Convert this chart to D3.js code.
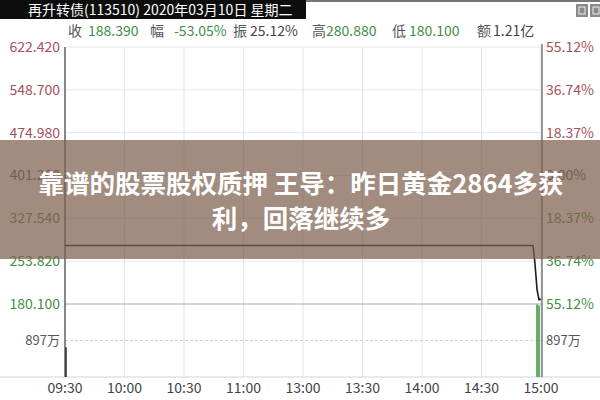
<!DOCTYPE html>
<html><head><meta charset="utf-8">
<script src="https://cdn.jsdelivr.net/npm/d3@7"></script>
<style>body{margin:0;background:#fff}svg{display:block}</style>
</head><body>
<svg id="c" width="600" height="400"></svg>
<script>
// ---- data ----
const title = "再升转债(113510) 2020年03月10日 星期二";
const infoLabels = ["收", "幅", "振", "高", "低", "额"];
const infoValues = ["188.390", "-53.05%", "25.12%", "280.880", "180.100", "1.21亿"];
const infoGreen = [true, true, false, true, true, false];
const priceTicks = [622.420, 548.700, 474.980, 401.260, 327.540, 253.820, 180.100];
const pctTicks = ["55.12%", "36.74%", "18.37%", "0.00%", "18.37%", "36.74%", "55.12%"];
const volTickLabel = "897万";
const volTick = 897;
const timeTicks = ["09:30", "10:00", "10:30", "11:00", "13:00", "13:30", "14:00", "14:30", "15:00"];
const priceMinutes = [0, 236, 237, 238, 239, 240];
const priceValues = [280.88, 280.88, 248.0, 205.0, 187.5, 188.39];
const volMinutes = [0, 238, 239];
const volValues = [730, 1780, 1760];
const bannerLines = ["靠谱的股票股权质押 王导：昨日黄金2864多获", "利，回落继续多"];

// ---- layout ----
const svg = d3.select("#c");
const L = 65, R = 541, T = 47, PB = 304, VB = 377;
const font = "'Noto Sans CJK SC','Noto Sans',sans-serif";
const red = "#a8505c", green = "#3f8f45", grey = "#555";

const x = d3.scaleLinear().domain([0, 240]).range([L, R]);
const y = d3.scaleLinear().domain([180.100, 622.420]).range([PB, T]);
const yv = d3.scaleLinear().domain([0, volTick * 2]).range([VB, PB]);

// title bar
svg.append("rect").attr("x", 0).attr("y", 0).attr("width", 306).attr("height", 19).attr("fill", "#0d0d0d");
svg.append("line").attr("x1", 306).attr("x2", 600).attr("y1", 1).attr("y2", 1).attr("stroke", "#777").attr("stroke-width", 2);
svg.append("text").attr("x", 28).attr("y", 15).attr("fill", "#fff").attr("font-size", 14)
  .attr("font-family", font).text(title);
// window buttons
[576, 590].forEach((bx, i) => {
  svg.append("rect").attr("x", bx).attr("y", 4).attr("width", 12).attr("height", 13).attr("fill", "#8a8a8a");
  svg.append("rect").attr("x", bx + 3).attr("y", 7).attr("width", 6).attr("height", 7).attr("fill", "none").attr("stroke", "#eee");
});

// info line
const infoX = [[68, 88], [150, 174], [233, 250], [312, 326], [392, 409], [477, 493]];
infoLabels.forEach((lab, i) => {
  svg.append("text").attr("x", infoX[i][0]).attr("y", 36).attr("font-size", 14).attr("font-family", font)
    .attr("fill", grey).text(lab);
  svg.append("text").attr("x", infoX[i][1]).attr("y", 36).attr("font-size", 14).attr("font-family", font)
    .attr("fill", infoGreen[i] ? green : "#444").text(infoValues[i]);
});

// vertical grid
const g = svg.append("g");
timeTicks.forEach((t, i) => {
  g.append("line").attr("x1", x(i * 30)).attr("x2", x(i * 30)).attr("y1", T).attr("y2", VB)
    .attr("stroke", "#e2e2e2").attr("stroke-width", 1);
});
// horizontal grid
priceTicks.forEach((p, i) => {
  g.append("line").attr("x1", L).attr("x2", R).attr("y1", y(p)).attr("y2", y(p))
    .attr("stroke", i === priceTicks.length - 1 ? "#a8a8a8" : "#e6e6e6").attr("stroke-width", 1);
});
g.append("line").attr("x1", L).attr("x2", R).attr("y1", yv(volTick)).attr("y2", yv(volTick))
  .attr("stroke", "#d0d0d0").attr("stroke-dasharray", "3,2");
g.append("line").attr("x1", 0).attr("x2", 600).attr("y1", VB).attr("y2", VB).attr("stroke", "#d4d4d4");

// borders
g.append("line").attr("x1", L).attr("x2", L).attr("y1", T).attr("y2", VB).attr("stroke", "#444").attr("stroke-width", 1.2);
g.append("line").attr("x1", R + 1).attr("x2", R + 1).attr("y1", T - 3).attr("y2", VB).attr("stroke", "#555").attr("stroke-width", 1.2);

// left / right labels
priceTicks.forEach((p, i) => {
  const c = i < 3 ? red : (i === 3 ? grey : green);
  svg.append("text").attr("x", 60).attr("y", y(p)).attr("dy", "0.35em").attr("text-anchor", "end")
    .attr("font-size", 14).attr("font-family", font).attr("fill", c).text(p.toFixed(3));
  svg.append("text").attr("x", 546).attr("y", y(p)).attr("dy", "0.35em")
    .attr("font-size", 14).attr("font-family", font).attr("fill", c).text(pctTicks[i]);
});
svg.append("text").attr("x", 60).attr("y", yv(volTick)).attr("dy", "0.35em").attr("text-anchor", "end")
  .attr("font-size", 13).attr("font-family", font).attr("fill", grey).text(volTickLabel);
svg.append("text").attr("x", 546).attr("y", yv(volTick)).attr("dy", "0.35em")
  .attr("font-size", 13).attr("font-family", font).attr("fill", grey).text(volTickLabel);

// time labels
timeTicks.forEach((t, i) => {
  svg.append("text").attr("x", x(i * 30)).attr("y", 393).attr("text-anchor", "middle")
    .attr("font-size", 14).attr("font-family", font).attr("fill", "#444").text(t);
});

// volume bars
volMinutes.forEach((m, i) => {
  svg.append("line").attr("x1", x(m) + (i === 0 ? 1 : 0)).attr("x2", x(m) + (i === 0 ? 1 : 0))
    .attr("y1", yv(0)).attr("y2", yv(volValues[i]))
    .attr("stroke", i === 0 ? "#333" : "#3f9a45").attr("stroke-width", 1.6);
});

// price line
const line = d3.line().x((d, i) => x(priceMinutes[i])).y(d => y(d));
svg.append("path").datum(priceValues).attr("d", line).attr("fill", "none")
  .attr("stroke", "#1a1a1a").attr("stroke-width", 1.6);

// banner overlay
svg.append("rect").attr("x", 0).attr("y", 140).attr("width", 600).attr("height", 119)
  .attr("fill", "rgb(125,95,78)").attr("opacity", 0.72);
bannerLines.forEach((s, i) => {
  svg.append("text").attr("x", 301).attr("y", 193 + i * 35).attr("text-anchor", "middle")
    .attr("font-size", 25.5).attr("font-weight", "bold").attr("font-family", font)
    .attr("fill", "#fff").text(s);
});
</script>
</body></html>
